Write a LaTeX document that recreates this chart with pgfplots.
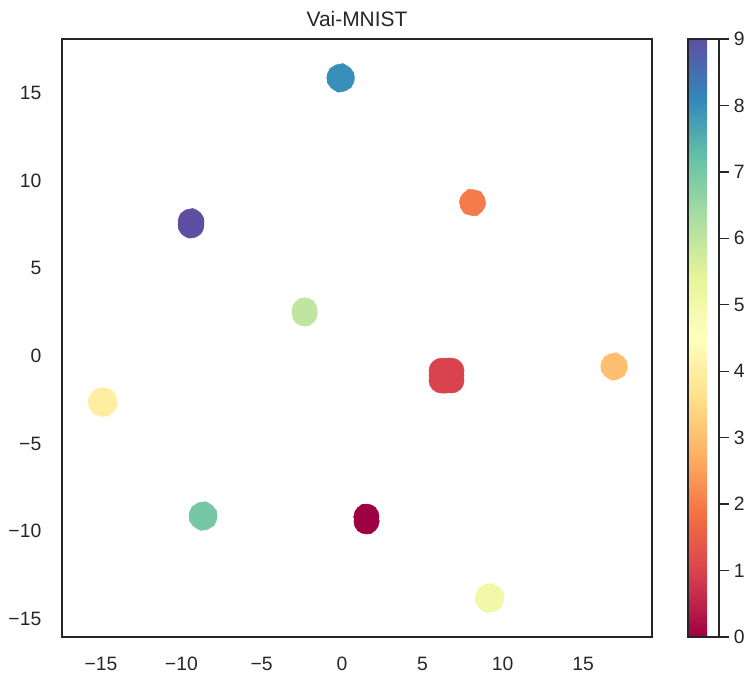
\documentclass[border=0pt]{standalone}
\usepackage{pgfplots}
\pgfplotsset{compat=1.18}
\usepackage{pgfplotstable}
\usepackage{fontspec}
\setmainfont{Liberation Sans}
\definecolor{tc}{HTML}{262626}
\pgfplotsset{colormap={spectral}{rgb255=(158,1,66) rgb255=(213,62,79) rgb255=(244,109,67) rgb255=(253,174,97) rgb255=(254,224,139) rgb255=(255,255,191) rgb255=(230,245,152) rgb255=(171,221,164) rgb255=(102,194,165) rgb255=(50,136,189) rgb255=(94,79,162)}}

% x y class size(pt)
\pgfplotstableread{
x y c s
-0.09 15.86 8 10.3
0.55 16.08 8 2.25
0.03 16.51 8 2.25
-0.62 16.28 8 2.25
-0.73 15.64 8 2.25
-0.21 15.21 8 2.25
0.43 15.44 8 2.25
8.12 8.75 2 9.75
8.52 9.23 2 2.25
7.91 9.34 2 2.25
7.51 8.86 2 2.25
7.72 8.27 2 2.25
8.33 8.16 2 2.25
8.73 8.64 2 2.25
-9.40 7.65 9 9.75
-9.40 7.47 9 9.75
-8.79 7.79 9 2.25
-9.29 8.24 9 2.25
-9.90 8.00 9 2.25
-10.01 7.33 9 2.25
-9.51 6.89 9 2.25
-8.90 7.12 9 2.25
-2.33 2.60 6 9.4
-2.33 2.42 6 9.4
-1.93 3.01 6 2.25
-2.54 3.13 6 2.25
-2.94 2.62 6 2.25
-2.73 2.01 6 2.25
-2.12 1.89 6 2.25
-1.72 2.40 6 2.25
6.50 -1.12 1 9.4
6.19 -0.84 1 9.4
6.81 -0.84 1 9.4
6.19 -1.40 1 9.4
6.81 -1.40 1 9.4
6.19 -1.12 1 9.4
6.81 -1.12 1 9.4
6.50 -0.84 1 9.4
6.50 -1.40 1 9.4
7.38 -0.83 1 2.25
6.66 -0.28 1 2.25
5.79 -0.57 1 2.25
5.62 -1.41 1 2.25
6.34 -1.96 1 2.25
7.22 -1.67 1 2.25
16.93 -0.60 3 9.9
17.54 -0.39 3 2.25
17.04 0.02 3 2.25
16.43 -0.20 3 2.25
16.32 -0.82 3 2.25
16.82 -1.22 3 2.25
17.43 -1.00 3 2.25
-14.90 -2.63 4 10.7
-14.42 -2.13 4 2.25
-15.16 -2.01 4 2.25
-15.64 -2.52 4 2.25
-15.38 -3.13 4 2.25
-14.65 -3.25 4 2.25
-14.16 -2.74 4 2.25
-8.65 -9.13 7 10.5
-7.98 -8.91 7 2.25
-8.53 -8.48 7 2.25
-9.20 -8.71 7 2.25
-9.32 -9.35 7 2.25
-8.78 -9.78 7 2.25
-8.10 -9.55 7 2.25
1.52 -9.16 0 9.4
1.52 -9.44 0 9.4
1.92 -8.75 0 2.25
1.31 -8.63 0 2.25
0.91 -9.18 0 2.25
1.12 -9.85 0 2.25
1.73 -9.97 0 2.25
2.13 -9.42 0 2.25
9.18 -13.81 5 10.7
9.88 -13.59 5 2.25
9.31 -13.16 5 2.25
8.61 -13.39 5 2.25
8.48 -14.03 5 2.25
9.05 -14.46 5 2.25
9.75 -14.23 5 2.25
}\clusters

\begin{document}
\begin{tikzpicture}
\begin{axis}[
  name=main,
  scale only axis,
  width=442.5pt, height=448.5pt,
  xmin=-17.43, xmax=19.29, ymin=-16.03, ymax=18.08,
  xtick={-15,-10,-5,0,5,10,15},
  ytick={-15,-10,-5,0,5,10,15},
  xticklabels={−15,−10,−5,0,5,10,15},
  yticklabels={−15,−10,−5,0,5,10,15},
  major tick length=0pt,
  tick label style={font=\fontsize{14.5}{17}\selectfont, text=tc},
  xticklabel style={yshift=-11.5pt},
  yticklabel style={xshift=-12pt},
  axis line style={draw=tc, line width=1.25pt},
  title={Vai-MNIST},
  title style={font=\fontsize{15.7}{19}\selectfont, text=tc},
  colormap name=spectral,
  point meta min=0, point meta max=9,
  colorbar,
  colorbar style={
    at={(parent axis.north east)}, anchor=north west, xshift=18.5pt,
    width=23.25pt,
    ytick={0,1,2,3,4,5,6,7,8,9},
    ytick pos=right,
    yticklabel pos=right,
    ytick align=outside,
    tick align=outside,
    major tick length=7.5pt,
    tick style={draw=tc, line width=1pt},
    axis line style={draw=tc, line width=1.25pt},
    tick label style={font=\fontsize{14.5}{17}\selectfont, text=tc},
    /pgf/number format/assume math mode=true,
  },
]
\addplot[scatter, only marks, mark=*, point meta=explicit,
  scatter/use mapped color={draw=mapped color, fill=mapped color},
  visualization depends on={\thisrow{s} \as \perpointmarksize},
  scatter/@pre marker code/.append style={/tikz/mark size=\perpointmarksize}]
  table[x=x, y=y, meta=c] {\clusters};
\end{axis}
\path ([xshift=-46.5pt,yshift=-30pt]main.south west) rectangle ([xshift=74.25pt,yshift=29.25pt]main.north east);
\end{tikzpicture}
\end{document}
